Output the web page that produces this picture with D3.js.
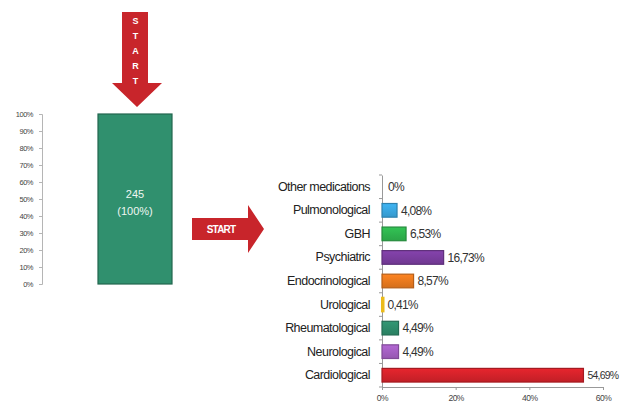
<!DOCTYPE html>
<html>
<head>
<meta charset="utf-8">
<script src="https://cdn.jsdelivr.net/npm/d3@7"></script>
<style>
  html, body { margin: 0; padding: 0; background: #fff; }
  svg { display: block; font-family: "Liberation Sans", Arial, sans-serif; }
</style>
</head>
<body>
<svg id="chart" width="622" height="405"></svg>
<script>
// Total patient count (left stacked column)
const totalPatients = 245;
const totalShare = 100;
const leftTicks = [0, 10, 20, 30, 40, 50, 60, 70, 80, 90, 100];

// Medication groups and their shares (%)
const categories = ["Other medications", "Pulmonological", "GBH", "Psychiatric",
  "Endocrinological", "Urological", "Rheumatological", "Neurological", "Cardiological"];
const shares = [0, 4.08, 6.53, 16.73, 8.57, 0.41, 4.49, 4.49, 54.69];
const barColors = ["#999999", "#3aa6df", "#2fb34e", "#7a3d9e", "#e8791f",
  "#f4c21b", "#2e8b6a", "#a45fc2", "#d3222a"];
const xTicks = [0, 20, 40, 60];

const W = 622;
const svg = d3.select("#chart");
const fmtPct = v => v === 0 ? "0%" : v.toFixed(2).replace(".", ",") + "%";

// ---- Left column: 100% scale ----
const yL = d3.scaleLinear().domain([0, 100]).range([284, 114]);
const axL = svg.append("g").attr("transform", "translate(42,0)")
  .call(d3.axisLeft(yL).tickValues(leftTicks).tickSize(3).tickFormat(d => d + "%"));
axL.select(".domain").attr("stroke", "#b5b5b5");
axL.selectAll(".tick line").attr("stroke", "#b5b5b5");
axL.selectAll(".tick text").attr("fill", "#444").style("font-size", "7.5px")
  .style("letter-spacing", "-0.5px").attr("x", -9);

const colX = d3.scaleBand().domain(["all"]).range([98, 172]);
svg.append("rect")
  .attr("x", colX("all")).attr("width", colX.bandwidth())
  .attr("y", yL(totalShare)).attr("height", yL(0) - yL(totalShare))
  .attr("fill", "#30906e").attr("stroke", "#22664e").attr("stroke-width", 1.2);
const cx = colX("all") + colX.bandwidth() / 2;
const midY = yL(totalShare / 2);
svg.append("text").attr("x", cx).attr("y", midY - 1).attr("text-anchor", "middle")
  .attr("fill", "#eef6f2").style("font-size", "11px").text(totalPatients);
svg.append("text").attr("x", cx).attr("y", midY + 16).attr("text-anchor", "middle")
  .attr("fill", "#eef6f2").style("font-size", "11px").text("(" + totalShare + "%)");

// ---- START arrows ----
const red = "#c8252b";
svg.append("path")
  .attr("d", "M122,12 L148,12 L148,83 L162,83 L137,107 L112,83 L122,83 Z")
  .attr("fill", red);
"START".split("").forEach((ch, i) => {
  svg.append("text").attr("x", 135.5).attr("y", 23.5 + i * 15.2).attr("text-anchor", "middle")
    .attr("fill", "#fff").style("font-size", "9px").style("font-weight", "bold").text(ch);
});
svg.append("path")
  .attr("d", "M192,218 L248,218 L248,205 L264,229 L248,253 L248,240 L192,240 Z")
  .attr("fill", red);
svg.append("text").attr("x", 221).attr("y", 232.5).attr("text-anchor", "middle")
  .attr("fill", "#fff").style("font-size", "10px").style("font-weight", "bold")
  .style("letter-spacing", "-0.8px").text("START");

// ---- Right: horizontal bar chart ----
const x = d3.scaleLinear().domain([0, 60]).range([382, 603]);
const y = d3.scaleBand().domain(categories).range([175, 387]).paddingInner(0.42).paddingOuter(0.21);

// category axis
const ay = svg.append("g").attr("transform", `translate(${x(0)},0)`)
  .call(d3.axisLeft(y).tickSize(0).tickPadding(12));
ay.select(".domain").attr("stroke", "#999");
ay.selectAll(".tick text").attr("fill", "#222").style("font-size", "12.5px")
  .style("letter-spacing", "-0.55px");
// boundary ticks between categories
const step = y.step();
svg.append("g").selectAll("line").data(d3.range(categories.length + 1)).join("line")
  .attr("x1", x(0) - 3).attr("x2", x(0))
  .attr("y1", i => 175 + i * step).attr("y2", i => 175 + i * step)
  .attr("stroke", "#999");

// value axis
const ax = svg.append("g").attr("transform", "translate(0,387)")
  .call(d3.axisBottom(x).tickValues(xTicks).tickSize(3).tickFormat(d => d + "%"));
ax.select(".domain").attr("stroke", "#999");
ax.selectAll(".tick line").attr("stroke", "#999");
ax.selectAll(".tick text").attr("fill", "#444").style("font-size", "8.5px")
  .style("letter-spacing", "-0.5px").attr("dy", "0.95em");

// bars (drawn over the axis line)
const defs = svg.append("defs");
barColors.forEach((c, i) => {
  const g = defs.append("linearGradient").attr("id", "g" + i)
    .attr("x1", 0).attr("y1", 0).attr("x2", 0).attr("y2", 1);
  g.append("stop").attr("offset", "0%").attr("stop-color", d3.color(c).brighter(0.25));
  g.append("stop").attr("offset", "100%").attr("stop-color", d3.color(c).darker(0.25));
});

svg.append("g").selectAll("rect").data(categories).join("rect")
  .attr("x", x(0)).attr("y", d => y(d))
  .attr("width", (d, i) => x(shares[i]) - x(0))
  .attr("height", y.bandwidth())
  .attr("fill", (d, i) => `url(#g${i})`)
  .attr("stroke", (d, i) => d3.color(barColors[i]).darker(shares[i] < 1 ? 0.1 : 0.7))
  .attr("stroke-width", (d, i) => shares[i] > 0 ? (shares[i] < 1 ? 2 : 1.2) : 0);

// value labels (shrunk when they would run past the right edge)
svg.append("g").selectAll("text").data(categories).join("text")
  .attr("x", (d, i) => x(shares[i]) + (shares[i] > 0 ? 4 : 6))
  .attr("y", d => y(d) + y.bandwidth() / 2)
  .attr("dy", "0.35em").attr("fill", "#333").style("font-size", "12px")
  .style("letter-spacing", "-0.75px")
  .text((d, i) => fmtPct(shares[i]))
  .each(function () {
    const t = d3.select(this);
    const x0 = +t.attr("x");
    const len = this.getComputedTextLength();
    if (x0 + len > W - 3) {
      const k = (W - 3 - x0) / len;
      t.style("font-size", (12 * k).toFixed(2) + "px");
    }
  });
</script>
</body>
</html>
